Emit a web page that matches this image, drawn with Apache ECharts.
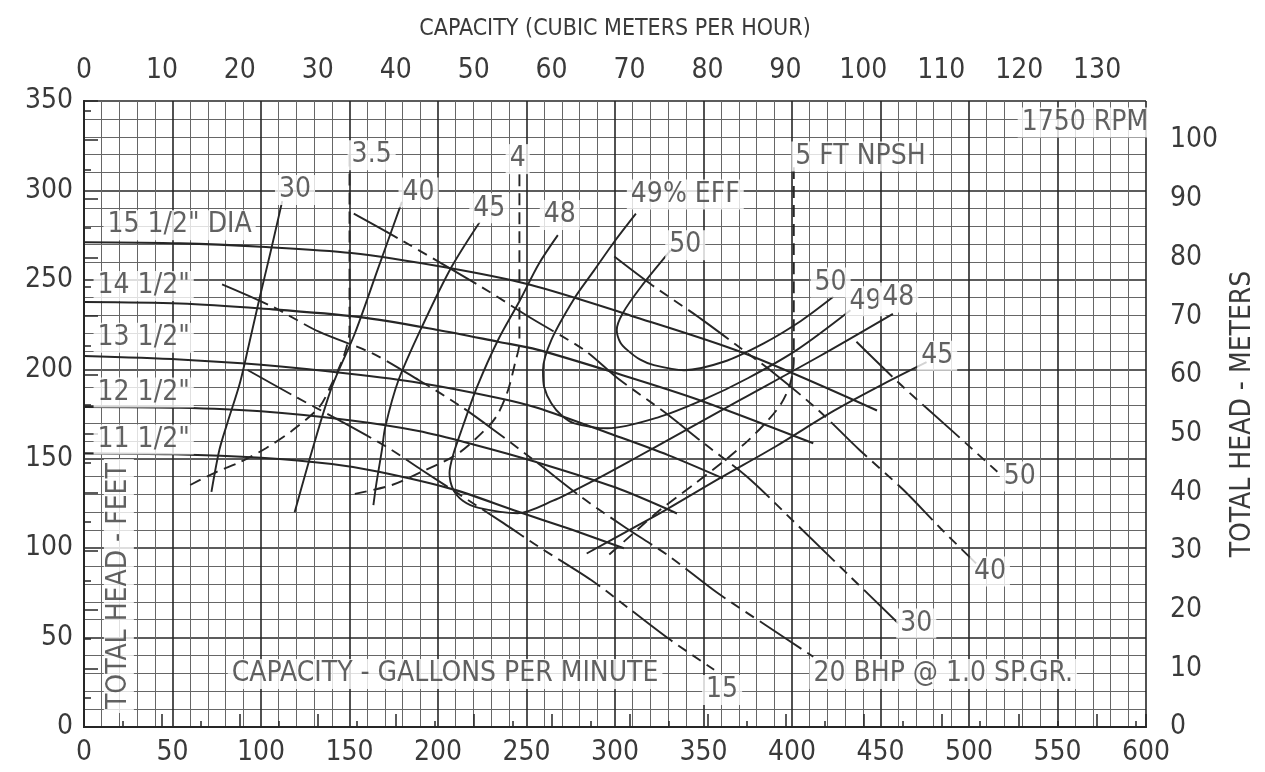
<!DOCTYPE html>
<html>
<head>
<meta charset="utf-8">
<title>Pump curve 1750 RPM</title>
<script src="https://cdn.jsdelivr.net/npm/echarts@6.0.0/dist/echarts.min.js"></script>
<style>
  html, body { margin: 0; padding: 0; background: #fff; }
  #chart { width: 1265px; height: 772px; }
</style>
</head>
<body>
<div id="chart"></div>
<script>
// head curves per impeller diameter, [gpm, ft]
const dia155 = [[0, 271], [54, 270.4], [100, 268.5], [151, 265], [204, 257], [251, 247.5], [309, 230], [373, 209], [448, 177]];
const dia145 = [[0, 237.6], [54, 236.8], [100, 234], [155, 229.3], [200, 222], [234, 215.4], [256, 211], [300, 198], [347, 183], [412, 158.6]];
const dia135 = [[0, 207.4], [54, 205.5], [100, 202.5], [150, 197.5], [189, 192.5], [234, 184], [256, 178.5], [300, 163], [330, 152], [361, 139]];
const dia125 = [[0, 179], [54, 178.5], [100, 176.5], [150, 171.5], [189, 165.5], [220, 158], [255, 148.3], [300, 134], [335, 119.4]];
const dia115 = [[0, 153], [50, 152.5], [100, 150.5], [140, 147], [166.5, 142.7], [208, 133], [245, 120.5], [275, 110.5], [305, 100]];

// efficiency lines
const eff30 = [[112, 294], [105.5, 266], [99, 239], [93, 213], [88, 192], [81, 170], [76.5, 155], [72, 131.5]];
const eff40 = [[179.6, 293.6], [166, 256], [153, 220], [140, 190], [129, 155], [119, 120]];
const eff45 = [[223.6, 282.4], [207.7, 257.3], [191.8, 225.6], [177.7, 194], [170.2, 167.8], [168.3, 154.8], [165, 135], [163.5, 124]];
const eff45b = [[284, 97], [306, 109], [328, 121], [359, 139], [391, 157], [424, 177], [452, 192], [476, 204]];
const eff48 = [[267.7, 275], [257, 259], [246, 238], [234, 216.5], [222, 190], [214, 168], [208.5, 152], [206.5, 142], [208.5, 133], [214, 126.5], [223, 122.5], [245, 119.5], [265, 126.5], [286.5, 137], [309, 149], [340, 166], [371, 183], [415, 207], [457, 231]];
const eff49 = [[311.8, 287], [299.6, 271.3], [288, 255], [277, 239.6], [264, 216.3], [259.3, 199.5], [260, 190], [264, 181], [270, 174], [277, 169.8], [295.8, 167], [324, 173], [350, 183], [375, 195], [403, 211], [433, 233]];
const eff50 = [[331.5, 266.6], [314.6, 246], [304.3, 231.2], [301, 222], [303, 215], [307, 210.7], [314, 205.5], [322, 202.3], [339, 199.5], [361.4, 204.2], [384, 214.5], [405, 227], [423.3, 240.5]];

// brake horsepower lines
const bhp15 = [[92.4, 199.6], [117.7, 185.6], [144, 171.6], [172, 156], [190.8, 143.7], [237, 114], [256.5, 101], [286.5, 82.2], [309, 65.4], [331.4, 48.6], [356, 32]];
const bhp20 = [[78, 247.5], [106.5, 235], [132.7, 221], [162.7, 209], [189, 194], [213.3, 179], [234, 164.2], [256.5, 147.4], [280.8, 128.7], [305.2, 112], [331, 95.2], [357, 75.6], [385, 57], [412, 39.3]];
const bhp30 = [[152.4, 287], [179.6, 272], [224.6, 246], [252.7, 228.5], [282.7, 210.7], [301.5, 195], [327.7, 176.2], [350.2, 158.6], [374.6, 139.9], [405, 111], [433, 84], [460, 58]];
const bhp40 = [[299.6, 263], [321, 247], [346, 230], [368, 214], [390, 197.7], [415, 177], [438, 155], [463, 132.5], [484, 111], [504, 91.5]];
const bhp50 = [[436.4, 215.4], [462.7, 190.2], [490, 166], [516, 142.7]];

// NPSH required lines
const npsh35 = [[150, 320], [150, 222], [147, 208], [140, 192], [133, 179], [118, 166], [103, 156], [88, 148], [75, 142.7], [60, 135.3]];
const npsh4 = [[246, 309], [246, 215], [243.4, 203], [239.6, 188.4], [234, 175.3], [228.3, 167.9], [211.5, 153], [190.8, 142.7], [174, 135.3], [150, 129.7]];
const npsh5 = [[401, 313], [401, 205], [399, 192], [394, 181], [386, 171], [375, 160], [362, 149], [345, 136], [325, 121], [310, 108], [294, 94]];

// text on the sheet: [text, gpm, ft]
const notes = [
    ['15 1/2" DIA', 54, 280.6],
    ['14 1/2"', 33.7, 246.5],
    ['13 1/2"', 33.7, 217.7],
    ['12 1/2"', 33.7, 187],
    ['11 1/2"', 33.7, 160.7],
    ['CAPACITY - GALLONS PER MINUTE', 204, 29.6],
    ['1750 RPM', 565.5, 338],
    ['5 FT NPSH', 438.7, 318.9],
    ['3.5', 162.5, 319.7],
    ['4', 245, 317.5],
    ['30', 119.2, 300.2],
    ['40', 189, 298.8],
    ['45', 229, 290],
    ['48', 268.8, 286.2],
    ['49% EFF', 339.7, 297.7],
    ['50', 339.7, 269.4],
    ['50', 421.8, 248.5],
    ['49', 441.5, 238],
    ['48', 460, 240.2],
    ['45', 482, 207.6],
    ['50', 528.7, 140],
    ['40', 511.8, 86.9],
    ['30', 470.2, 57.9],
    ['20 BHP @ 1.0 SP.GR.', 485.4, 29.6],
    ['15', 360.5, 20.7]
];
const leftTitle = ['TOTAL HEAD - FEET', 19.7, 78.8];

const GPM_PER_M3H = 4.40287;
const FT_PER_M = 3.28084;

const FONT = "'Liberation Sans Narrow', 'DejaVu Sans Condensed', 'Arial Narrow', sans-serif";
const INK = '#262626';
const TEXT = '#3a3a3a';

const chart = echarts.init(document.getElementById('chart'));

function line(data, width, dash) {
    return {
        type: 'line',
        data: data,
        smooth: 0.3,
        symbol: 'none',
        silent: true,
        z: 3,
        lineStyle: { color: INK, width: width, type: dash || 'solid' }
    };
}

const series = [];
[dia155, dia145, dia135, dia125, dia115].forEach(d => series.push(line(d, 2.1)));
[eff30, eff40, eff45, eff45b, eff48, eff49, eff50].forEach(d => series.push(line(d, 1.9)));
[bhp15, bhp20, bhp30, bhp40, bhp50].forEach(d => series.push(line(d, 1.9, [50, 7, 10, 7, 10, 7])));
[npsh35, npsh4, npsh5].forEach(d => series.push(line(d, 1.9, [12, 7])));

const labelItems = notes.map(n => ({ value: [n[1], n[2]], name: n[0] }));
labelItems.push({ value: [leftTitle[1], leftTitle[2]], name: leftTitle[0], label: { rotate: 90 } });

series.push({
    type: 'scatter',
    data: labelItems,
    symbolSize: 1,
    silent: true,
    z: 10,
    itemStyle: { color: 'transparent' },
    label: {
        show: true,
        position: 'inside',
        formatter: p => p.name,
        fontFamily: FONT,
        fontSize: 28,
        color: TEXT,
        backgroundColor: '#fff',
        padding: [1, 4]
    }
});

const axisText = { fontFamily: FONT, fontSize: 28, color: TEXT };

const option = {
    animation: false,
    backgroundColor: '#fff',
    grid: { left: 84, right: 114, top: 101, bottom: 45 },
    xAxis: [
        {
            type: 'value', position: 'bottom',
            min: 0, max: 600, interval: 50,
            axisLine: { show: true, lineStyle: { color: INK, width: 2 } },
            axisTick: { show: false },
            minorTick: { show: false, splitNumber: 5 },
            axisLabel: Object.assign({ margin: 12 }, axisText),
            splitLine: { show: true, lineStyle: { color: '#262626', width: 1.6 } },
            minorSplitLine: { show: true, lineStyle: { color: '#666', width: 1 } }
        },
        {
            type: 'value', position: 'top',
            min: 0, max: 600 / GPM_PER_M3H, interval: 10,
            name: 'CAPACITY (CUBIC METERS PER HOUR)',
            nameLocation: 'middle', nameGap: 60,
            nameTextStyle: { fontFamily: FONT, fontSize: 23, color: TEXT },
            axisLine: { show: true, lineStyle: { color: INK, width: 2 } },
            axisTick: { show: true, length: 13, lineStyle: { color: INK, width: 1.5 } },
            minorTick: { show: true, splitNumber: 2, length: 6, lineStyle: { color: INK, width: 1.5 } },
            axisLabel: Object.assign({ margin: 16, showMaxLabel: false }, axisText),
            splitLine: { show: false }
        }
    ],
    yAxis: [
        {
            type: 'value', position: 'left',
            min: 0, max: 350, interval: 50,
            axisLine: { show: true, lineStyle: { color: INK, width: 2 } },
            axisTick: { show: false },
            minorTick: { show: false, splitNumber: 5 },
            axisLabel: Object.assign({ margin: 11 }, axisText),
            splitLine: { show: true, lineStyle: { color: '#262626', width: 1.6 } },
            minorSplitLine: { show: true, lineStyle: { color: '#666', width: 1 } }
        },
        {
            type: 'value', position: 'right',
            min: 0, max: 350 / FT_PER_M, interval: 10,
            name: 'TOTAL HEAD - METERS',
            nameLocation: 'middle', nameGap: 48, nameRotate: 90,
            nameTextStyle: { fontFamily: FONT, fontSize: 28, color: TEXT },
            axisLine: { show: true, lineStyle: { color: INK, width: 2 } },
            axisTick: { show: true, length: 14, lineStyle: { color: INK, width: 1.5 } },
            minorTick: { show: true, splitNumber: 2, length: 7, lineStyle: { color: INK, width: 1.5 } },
            axisLabel: Object.assign({ margin: 24, showMaxLabel: false }, axisText),
            splitLine: { show: false }
        }
    ],
    series: series
};

chart.setOption(option);
</script>
</body>
</html>
